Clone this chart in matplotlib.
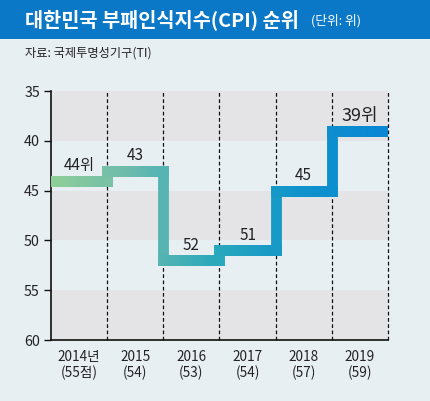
import matplotlib
matplotlib.use("Agg")
import matplotlib.pyplot as plt
import numpy as np
from matplotlib.collections import LineCollection
from matplotlib.colors import LinearSegmentedColormap
from matplotlib.patches import Rectangle

plt.rcParams['font.family'] = ['Noto Sans CJK KR', 'DejaVu Sans']

years = ['2014년', '2015', '2016', '2017', '2018', '2019']
scores = ['(55점)', '(54)', '(53)', '(54)', '(57)', '(59)']
ranks = [44, 43, 52, 51, 45, 39]
rank_labels = ['44위', '43', '52', '51', '45', '39위']
yticks = [35, 40, 45, 50, 55, 60]

BG = '#e8eff3'
BAND = '#e4e4e6'

fig = plt.figure(figsize=(4.31, 4.01), dpi=100, facecolor=BG)
# title bar
fig.patches.append(Rectangle((0, 1 - 39 / 401), 1, 39 / 401, transform=fig.transFigure,
                             facecolor='#0a78c6', edgecolor='none', zorder=0))
fig.text(25 / 431, 1 - 20 / 401, '대한민국 부패인식지수(CPI) 순위', color='white',
         fontsize=14.2, fontweight='bold', va='center', ha='left')
fig.text(311 / 431, 1 - 21 / 401, '(단위: 위)', color='white', fontsize=9.2,
         va='center', ha='left')
fig.text(25 / 431, 1 - 53 / 401, '자료: 국제투명성기구(TI)', color='#222222',
         fontsize=8.8, va='center', ha='left')

ax = fig.add_axes([51 / 431, 1 - 340 / 401, 337 / 431, 249 / 401])
ax.set_facecolor(BG)
n = len(ranks)
ax.set_xlim(0, n)
ax.set_ylim(60, 35)

# bands
for lo in (35, 45, 55):
    ax.axhspan(lo, lo + 5, color=BAND, zorder=0, lw=0)

# dashed dividers
for i in range(1, n + 1):
    ax.axvline(i, color='#111111', lw=0.9, ls=(0, (3, 2)), zorder=1, clip_on=False)

# step path
px, py = [], []
for i, r in enumerate(ranks):
    if i == 0:
        px.append(i); py.append(r)
    else:
        px.append(i); py.append(ranks[i - 1])
        px.append(i); py.append(r)
px.append(n); py.append(ranks[-1])

segs, cvals = [], []
for (x0, y0), (x1, y1) in zip(zip(px[:-1], py[:-1]), zip(px[1:], py[1:])):
    k = 40 if x0 != x1 else 1
    xs = np.linspace(x0, x1, k + 1)
    ys = np.linspace(y0, y1, k + 1)
    for j in range(k):
        segs.append([(xs[j], ys[j]), (xs[j + 1], ys[j + 1])])
        cvals.append((xs[j] + xs[j + 1]) / 2 / n)

cmap = LinearSegmentedColormap.from_list('g', ['#92d097', '#6cbaad', '#2aa8bc', '#0f93cc', '#0a86d4'])
lc = LineCollection(segs, colors=cmap(np.array(cvals)), linewidths=7.8,
                    capstyle='projecting', zorder=3)
ax.add_collection(lc)

# value labels
for i, (r, lab) in enumerate(zip(ranks, rank_labels)):
    big = (i == n - 1)
    ax.text(i + 0.5, r - (1.45 if big else 1.5), lab, ha='center', va='center',
            fontsize=13 if big else 11, color='#222222', zorder=4)

ax.set_yticks(yticks)
ax.set_yticklabels([str(t) for t in yticks], fontsize=10.3, color='#222222')
ax.set_xticks([i + 0.5 for i in range(n)])
ax.set_xticklabels([f'{y}\n{s}' for y, s in zip(years, scores)], fontsize=9.8,
                   color='#222222', linespacing=1.2)
ax.tick_params(axis='x', length=0, pad=7)
ax.tick_params(axis='y', length=5, width=1, color='#111111', pad=3)
for s in ('top', 'right'):
    ax.spines[s].set_visible(False)
for s in ('left', 'bottom'):
    ax.spines[s].set_color('#111111')
    ax.spines[s].set_linewidth(1.2)

fig.savefig('out.png', dpi=100, facecolor=BG)
